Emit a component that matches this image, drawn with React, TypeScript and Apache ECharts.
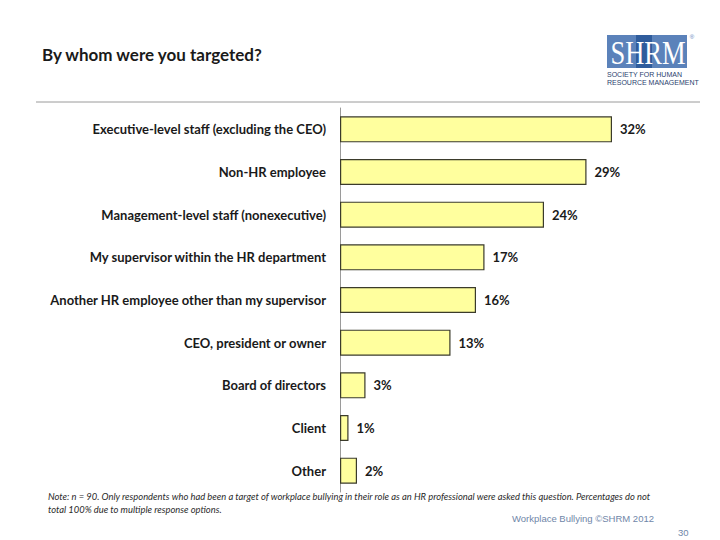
import React, { useEffect, useRef } from "react";
import * as echarts from "echarts";

const categories = [
  "Executive-level staff (excluding the CEO)",
  "Non-HR employee",
  "Management-level staff (nonexecutive)",
  "My supervisor within the HR department",
  "Another HR employee other than my supervisor",
  "CEO, president or owner",
  "Board of directors",
  "Client",
  "Other",
];
const values = [32, 29, 24, 17, 16, 13, 3, 1, 2];

const titleText = "By whom were you targeted?";
const noteLine1 =
  "Note: n = 90. Only respondents who had been a target of workplace bullying in their role as an HR professional were asked this question. Percentages do not";
const noteLine2 = "total 100% due to multiple response options.";
const footerText = "Workplace Bullying ©SHRM 2012";
const pageNumber = "30";

const FONT = "Lato, 'Open Sans', sans-serif";

export default function App() {
  const ref = useRef<HTMLDivElement>(null);
  useEffect(() => {
    if (!ref.current) return;
    const chart = echarts.init(ref.current, undefined, { renderer: "svg" });
    chart.setOption({
      animation: false,
      backgroundColor: "#ffffff",
      grid: { left: 340, right: 40, top: 108, bottom: 48 },
      xAxis: {
        type: "value",
        min: 0,
        max: 40,
        show: false,
      },
      yAxis: {
        type: "category",
        data: categories,
        inverse: true,
        axisLine: { show: true, lineStyle: { color: "#9a9a9a", width: 1 } },
        axisTick: { show: false },
        axisLabel: {
          margin: 14,
          color: "#1a1a1a",
          fontFamily: FONT,
          fontWeight: "bold",
          fontSize: 13,
        },
      },
      series: [
        {
          type: "bar",
          data: values,
          barCategoryGap: "39%",
          itemStyle: {
            color: "#FFFF9E",
            borderColor: "#3b3b2b",
            borderWidth: 1.2,
          },
          label: {
            show: true,
            position: "right",
            distance: 8,
            formatter: "{c}%",
            color: "#1a1a1a",
            fontFamily: FONT,
            fontWeight: "bold",
            fontSize: 13,
          },
        },
      ],
      graphic: [
        {
          type: "text",
          left: 42,
          top: 46,
          style: {
            text: titleText,
            fontFamily: FONT,
            fontWeight: "bold",
            fontSize: 17,
            fill: "#1a1a1a",
          },
        },
        {
          type: "line",
          shape: { x1: 36, y1: 102, x2: 700, y2: 102 },
          style: { stroke: "#9a9a9a", lineWidth: 1 },
        },
        {
          type: "text",
          left: 48,
          top: 492,
          style: {
            text: noteLine1,
            fontFamily: FONT,
            fontStyle: "italic",
            fontSize: 9.4,
            fill: "#2a2a2a",
          },
        },
        {
          type: "text",
          left: 48,
          top: 505,
          style: {
            text: noteLine2,
            fontFamily: FONT,
            fontStyle: "italic",
            fontSize: 9.4,
            fill: "#2a2a2a",
          },
        },
        {
          type: "text",
          left: 512,
          top: 513,
          style: {
            text: footerText,
            fontFamily: "'Liberation Sans', sans-serif",
            fontSize: 9.5,
            fill: "#6f86a8",
          },
        },
        {
          type: "text",
          left: 678,
          top: 527,
          style: {
            text: pageNumber,
            fontFamily: "'Liberation Sans', sans-serif",
            fontSize: 9.5,
            fill: "#6f86a8",
          },
        },
        // SHRM logo
        {
          type: "rect",
          shape: { x: 607, y: 35, width: 80, height: 33 },
          style: { fill: "#5b82ba" },
        },
        {
          type: "rect",
          shape: { x: 636, y: 35, width: 16, height: 33 },
          style: { fill: "#2f5c9c" },
        },
        {
          type: "text",
          x: 648,
          y: 53,
          scaleX: 0.78,
          style: {
            text: "SHRM",
            fontFamily: "'Liberation Serif', 'DejaVu Serif', serif",
            fontSize: 34,
            fill: "#ffffff",
            align: "center",
            verticalAlign: "middle",
          },
        },
        {
          type: "text",
          x: 692,
          y: 37,
          style: {
            text: "®",
            fontFamily: "'Liberation Sans', sans-serif",
            fontSize: 6,
            fill: "#5b82ba",
            align: "center",
            verticalAlign: "middle",
          },
        },
        {
          type: "text",
          x: 607,
          y: 74,
          style: {
            text: "SOCIETY FOR HUMAN",
            fontFamily: "'Liberation Sans', sans-serif",
            fontSize: 7,
            fill: "#2a3f6e",
            verticalAlign: "middle",
          },
        },
        {
          type: "text",
          x: 607,
          y: 82,
          style: {
            text: "RESOURCE MANAGEMENT",
            fontFamily: "'Liberation Sans', sans-serif",
            fontSize: 7,
            fill: "#2a3f6e",
            verticalAlign: "middle",
          },
        },
      ],
    });
    return () => chart.dispose();
  }, []);
  return (
    <div
      ref={ref}
      style={{ position: "fixed", left: 0, top: 0, width: 720, height: 540 }}
    />
  );
}
